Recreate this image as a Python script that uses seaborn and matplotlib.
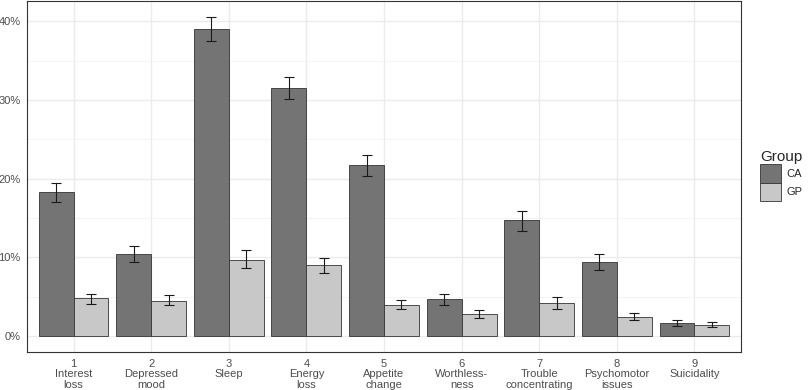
import pandas as pd
import numpy as np
import matplotlib
matplotlib.use("Agg")
import matplotlib.pyplot as plt
import seaborn as sns
from matplotlib.ticker import MultipleLocator, FuncFormatter
from matplotlib.patches import Patch

# --- data ---
symptoms = ["1\nInterest\nloss", "2\nDepressed\nmood", "3\nSleep", "4\nEnergy\nloss",
            "5\nAppetite\nchange", "6\nWorthless-\nness", "7\nTrouble\nconcentrating",
            "8\nPsychomotor\nissues", "9\nSuicidality"]
groups = ["CA", "GP"]
ca_pct = [18.3, 10.4, 39.0, 31.5, 21.8, 4.7, 14.7, 9.4, 1.6]
ca_lo = [17.0, 9.4, 37.5, 30.1, 20.4, 3.9, 13.3, 8.4, 1.3]
ca_hi = [19.5, 11.4, 40.6, 32.9, 23.0, 5.4, 15.9, 10.4, 2.0]
gp_pct = [4.8, 4.5, 9.7, 9.0, 3.9, 2.8, 4.2, 2.4, 1.4]
gp_lo = [4.05, 3.9, 8.7, 8.0, 3.4, 2.3, 3.5, 2.0, 1.1]
gp_hi = [5.4, 5.2, 10.9, 9.9, 4.6, 3.3, 4.9, 2.9, 1.8]

df = pd.DataFrame({
    "symptom": symptoms * 2,
    "Group": ["CA"] * 9 + ["GP"] * 9,
    "pct": ca_pct + gp_pct,
    "lo": ca_lo + gp_lo,
    "hi": ca_hi + gp_hi,
})

colors = {"CA": "#747474", "GP": "#c8c8c8"}

sns.set_style("white")
plt.rcParams["font.family"] = ["Liberation Sans", "DejaVu Sans"]

fig = plt.figure(figsize=(8.09, 3.90), dpi=100)
ax = fig.add_axes([27 / 809, 1 - 352 / 390, (741 - 27) / 809, 351 / 390])

sns.barplot(data=df, x="symptom", y="pct", hue="Group", order=symptoms,
            hue_order=groups, palette=colors, errorbar=None, width=0.9,
            edgecolor="#333333", linewidth=0.6, saturation=1, ax=ax, zorder=3,
            legend=False)

# error bars placed at the bar centres seaborn computed
bars = [p for p in ax.patches if p.get_height() > 0]
for bar, (_, row) in zip(bars, df.iterrows()):
    xc = bar.get_x() + bar.get_width() / 2
    ax.errorbar(xc, row["pct"], yerr=[[row["pct"] - row["lo"]], [row["hi"] - row["pct"]]],
                fmt="none", ecolor="#1a1a1a", elinewidth=0.8, capsize=3.5,
                capthick=0.8, zorder=4)

ax.set_xlim(-0.6, 8.6)
ax.set_ylim(-2.03, 42.6)
ax.yaxis.set_major_locator(MultipleLocator(10))
ax.yaxis.set_minor_locator(MultipleLocator(5))
ax.yaxis.set_major_formatter(FuncFormatter(lambda v, _: f"{v:.0f}%"))

ax.grid(True, which="major", color="#ebebeb", linewidth=1.0, zorder=0)
ax.grid(True, which="minor", axis="y", color="#f2f2f2", linewidth=0.6, zorder=0)
ax.set_axisbelow(True)

for s in ax.spines.values():
    s.set_color("#333333")
    s.set_linewidth(0.8)

ax.tick_params(axis="both", which="major", length=3, color="#333333", width=0.7,
               labelsize=8, labelcolor="#4d4d4d", pad=2)
ax.tick_params(axis="y", which="major", pad=1.5)
ax.tick_params(axis="y", which="minor", length=0)
for lab in ax.get_xticklabels():
    lab.set_linespacing(1.05)
ax.set_xlabel("")
ax.set_ylabel("")

handles = [Patch(facecolor=colors[g], edgecolor="#333333", linewidth=0.6, label=g)
           for g in groups]
leg = fig.legend(handles=handles, title="Group", loc="upper left",
                 bbox_to_anchor=(760 / 809, 1 - 150 / 390), frameon=False,
                 fontsize=8, title_fontsize=11, handlelength=1.9, handleheight=2.2,
                 handletextpad=0.45, labelspacing=0.0, borderaxespad=0, borderpad=0)
leg._legend_box.align = "left"

fig.savefig("out.png", dpi=100)
